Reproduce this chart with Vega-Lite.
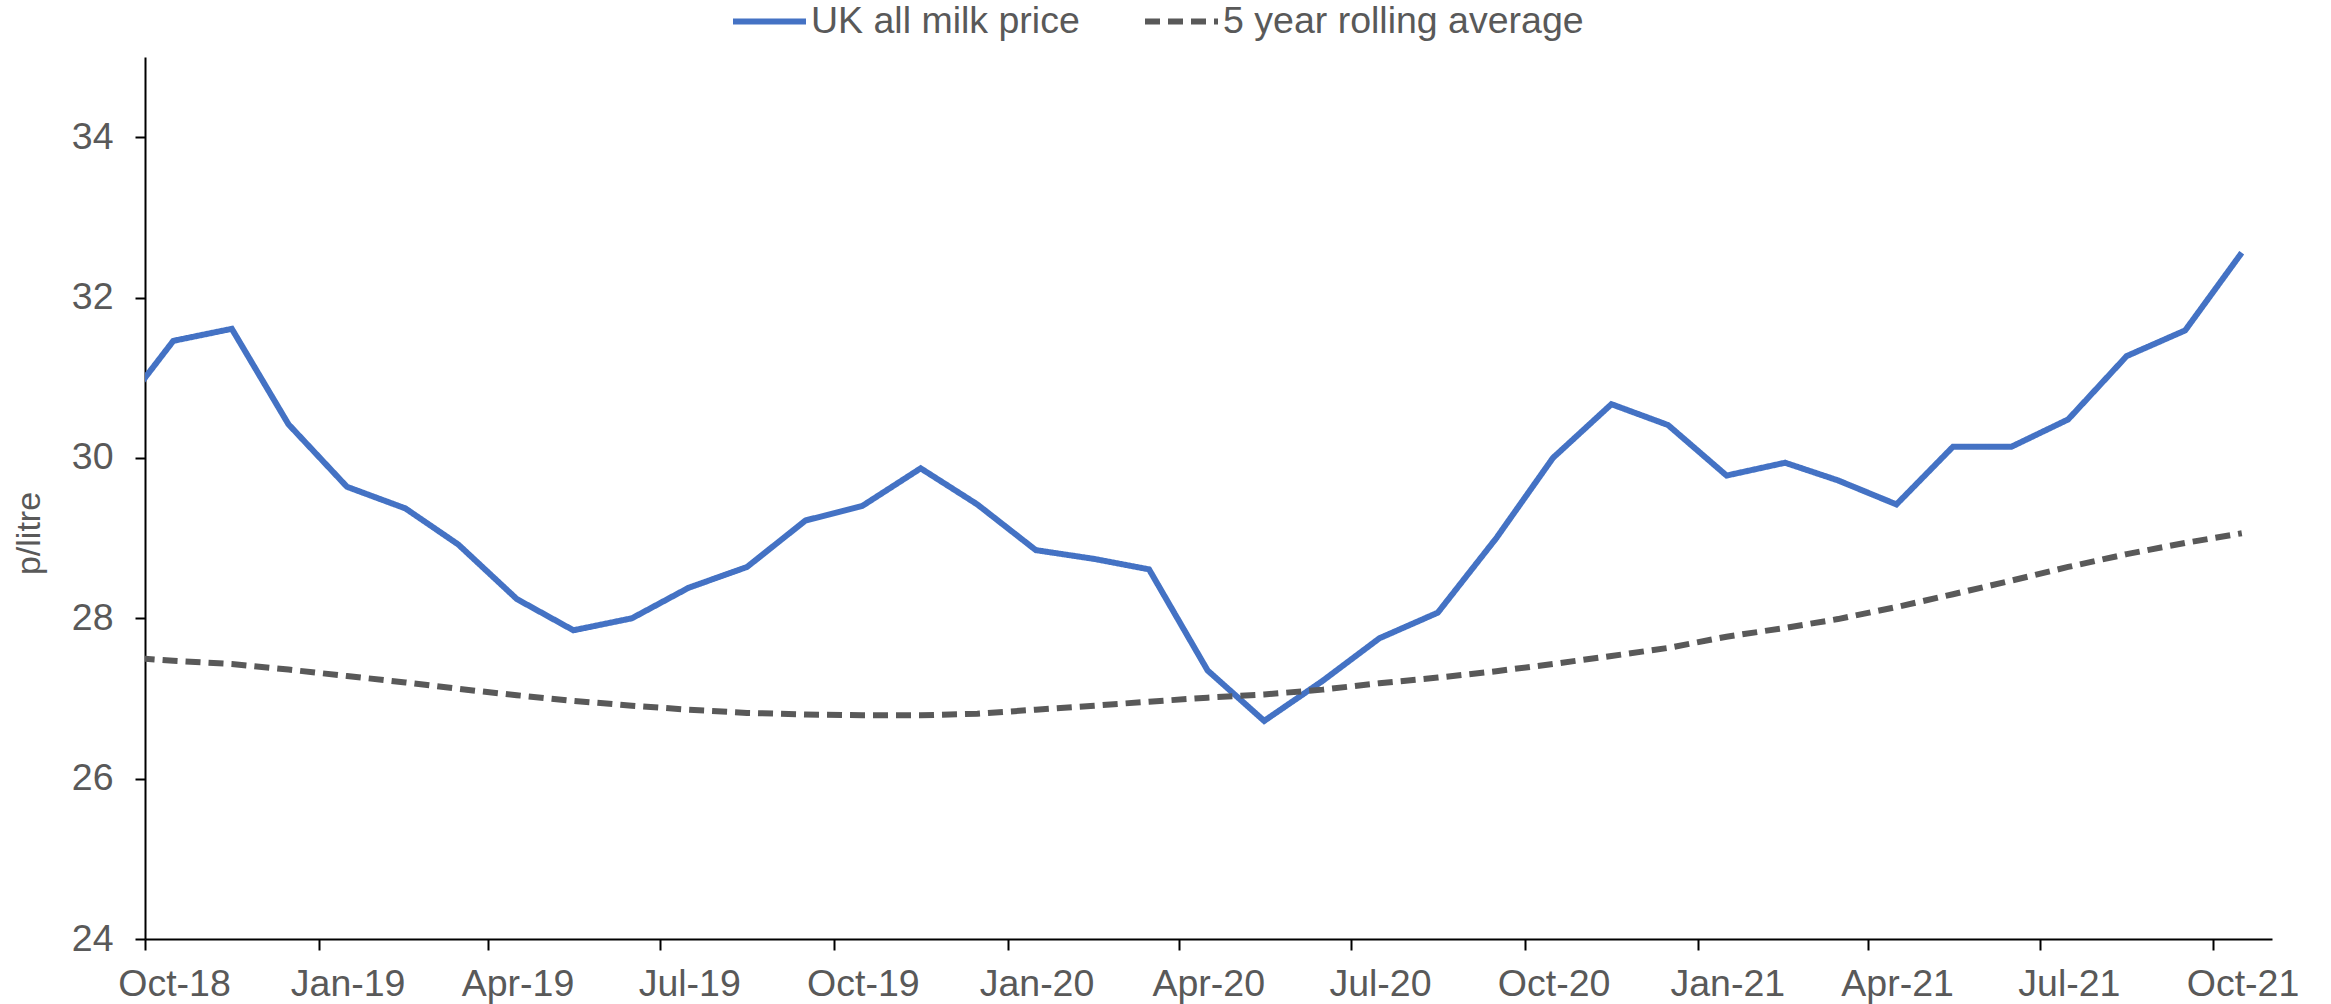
{
  "$schema": "https://vega.github.io/schema/vega-lite/v6.json",
  "width": 2127,
  "height": 882,
  "autosize": {"type": "none"},
  "padding": {"left": 145, "top": 57, "right": 59, "bottom": 65},
  "background": "white",
  "data": {
    "values": [
      {"d": "2018-09-16", "UK all milk price": 30.54, "5 year rolling average": 27.52},
      {"d": "2018-10-16", "UK all milk price": 31.46, "5 year rolling average": 27.47},
      {"d": "2018-11-16", "UK all milk price": 31.61, "5 year rolling average": 27.43},
      {"d": "2018-12-16", "UK all milk price": 30.42, "5 year rolling average": 27.36},
      {"d": "2019-01-16", "UK all milk price": 29.64, "5 year rolling average": 27.28},
      {"d": "2019-02-16", "UK all milk price": 29.37, "5 year rolling average": 27.20},
      {"d": "2019-03-16", "UK all milk price": 28.92, "5 year rolling average": 27.12},
      {"d": "2019-04-16", "UK all milk price": 28.24, "5 year rolling average": 27.04},
      {"d": "2019-05-16", "UK all milk price": 27.85, "5 year rolling average": 26.97},
      {"d": "2019-06-16", "UK all milk price": 28.00, "5 year rolling average": 26.91},
      {"d": "2019-07-16", "UK all milk price": 28.38, "5 year rolling average": 26.86},
      {"d": "2019-08-16", "UK all milk price": 28.64, "5 year rolling average": 26.82},
      {"d": "2019-09-16", "UK all milk price": 29.22, "5 year rolling average": 26.80},
      {"d": "2019-10-16", "UK all milk price": 29.40, "5 year rolling average": 26.79},
      {"d": "2019-11-16", "UK all milk price": 29.87, "5 year rolling average": 26.79},
      {"d": "2019-12-16", "UK all milk price": 29.42, "5 year rolling average": 26.81},
      {"d": "2020-01-16", "UK all milk price": 28.85, "5 year rolling average": 26.86},
      {"d": "2020-02-16", "UK all milk price": 28.74, "5 year rolling average": 26.91},
      {"d": "2020-03-16", "UK all milk price": 28.61, "5 year rolling average": 26.96},
      {"d": "2020-04-16", "UK all milk price": 27.35, "5 year rolling average": 27.01},
      {"d": "2020-05-16", "UK all milk price": 26.72, "5 year rolling average": 27.05},
      {"d": "2020-06-16", "UK all milk price": 27.22, "5 year rolling average": 27.11},
      {"d": "2020-07-16", "UK all milk price": 27.75, "5 year rolling average": 27.19},
      {"d": "2020-08-16", "UK all milk price": 28.07, "5 year rolling average": 27.26},
      {"d": "2020-09-16", "UK all milk price": 29.00, "5 year rolling average": 27.34},
      {"d": "2020-10-16", "UK all milk price": 30.00, "5 year rolling average": 27.43},
      {"d": "2020-11-16", "UK all milk price": 30.67, "5 year rolling average": 27.53},
      {"d": "2020-12-16", "UK all milk price": 30.41, "5 year rolling average": 27.63},
      {"d": "2021-01-16", "UK all milk price": 29.78, "5 year rolling average": 27.77},
      {"d": "2021-02-16", "UK all milk price": 29.94, "5 year rolling average": 27.88},
      {"d": "2021-03-16", "UK all milk price": 29.72, "5 year rolling average": 27.99},
      {"d": "2021-04-16", "UK all milk price": 29.42, "5 year rolling average": 28.14},
      {"d": "2021-05-16", "UK all milk price": 30.14, "5 year rolling average": 28.30},
      {"d": "2021-06-16", "UK all milk price": 30.14, "5 year rolling average": 28.47},
      {"d": "2021-07-16", "UK all milk price": 30.48, "5 year rolling average": 28.64},
      {"d": "2021-08-16", "UK all milk price": 31.27, "5 year rolling average": 28.80},
      {"d": "2021-09-16", "UK all milk price": 31.59, "5 year rolling average": 28.94},
      {"d": "2021-10-16", "UK all milk price": 32.56, "5 year rolling average": 29.06}
    ]
  },
  "transform": [
    {"fold": ["UK all milk price", "5 year rolling average"], "as": ["series", "value"]}
  ],
  "mark": {"type": "line", "clip": true, "strokeWidth": 6, "strokeCap": "butt"},
  "encoding": {
    "x": {
      "field": "d",
      "type": "temporal",
      "scale": {
        "type": "utc",
        "domain": [
          {"year": 2018, "month": 10, "date": 1, "utc": true},
          {"year": 2021, "month": 11, "date": 1, "utc": true}
        ]
      },
      "axis": {
        "title": null,
        "format": "%b-%y",
        "tickCount": {"interval": "month", "step": 3},
        "grid": false,
        "domainColor": "black",
        "domainWidth": 2,
        "tickColor": "black",
        "tickWidth": 2,
        "tickSize": 11,
        "labelFont": "Liberation Sans",
        "labelFontSize": 37.5,
        "labelColor": "#595959",
        "labelPadding": 15,
        "labelOffset": 29,
        "labelAlign": "center",
        "labelFlush": false,
        "labelOverlap": false,
        "labelBound": false
      }
    },
    "y": {
      "field": "value",
      "type": "quantitative",
      "scale": {"domain": [24, 35], "nice": false, "zero": false},
      "axis": {
        "title": "p/litre",
        "values": [24, 26, 28, 30, 32, 34],
        "grid": false,
        "domainColor": "black",
        "domainWidth": 2,
        "tickColor": "black",
        "tickWidth": 2,
        "tickSize": 10,
        "labelFont": "Liberation Sans",
        "labelFontSize": 37.5,
        "labelColor": "#595959",
        "labelPadding": 22,
        "titleFont": "Liberation Sans",
        "titleFontSize": 34,
        "titleFontWeight": "normal",
        "titleColor": "#595959",
        "titleX": -116,
        "titleY": 476,
        "titleAngle": -90,
        "titleAlign": "center",
        "titleBaseline": "middle"
      }
    },
    "color": {
      "field": "series",
      "type": "nominal",
      "scale": {"domain": ["UK all milk price", "5 year rolling average"], "range": ["#4472C4", "#595959"]},
      "legend": {"title": null}
    },
    "strokeDash": {
      "field": "series",
      "type": "nominal",
      "scale": {"domain": ["UK all milk price", "5 year rolling average"], "range": [[1, 0], [15, 8]]},
      "legend": {"title": null}
    }
  },
  "config": {
    "view": {"stroke": null},
    "legend": {
      "orient": "none",
      "legendX": 585,
      "legendY": -75,
      "direction": "horizontal",
      "symbolType": "stroke",
      "symbolSize": 5329,
      "symbolStrokeWidth": 6,
      "labelFont": "Liberation Sans",
      "labelFontSize": 37.5,
      "labelColor": "#595959",
      "labelOffset": 2,
      "labelLimit": 1000,
      "columnPadding": 53,
      "padding": 0
    }
  }
}
